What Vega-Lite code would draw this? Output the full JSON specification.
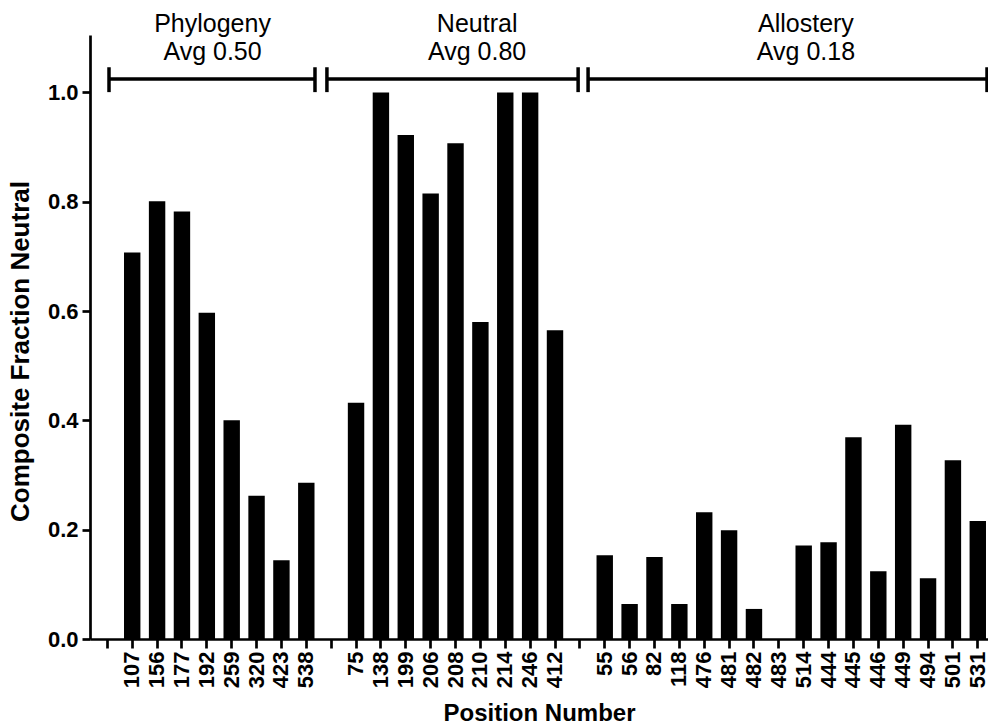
{
  "$schema": "https://vega.github.io/schema/vega-lite/v6.json",
  "width": 898,
  "height": 604,
  "autosize": {"type": "none"},
  "padding": {"left": 90, "top": 35, "right": 0, "bottom": 85},
  "background": "white",
  "config": {
    "view": {"stroke": null},
    "font": "Liberation Sans",
    "axis": {"domainColor": "black", "tickColor": "black", "domainWidth": 2.7, "tickWidth": 2.7, "grid": false, "labelColor": "black", "titleColor": "black"}
  },
  "datasets": {
    "bars": [
      {"group": "Phylogeny", "position": "107", "fraction": 0.707},
      {"group": "Phylogeny", "position": "156", "fraction": 0.801},
      {"group": "Phylogeny", "position": "177", "fraction": 0.782},
      {"group": "Phylogeny", "position": "192", "fraction": 0.597},
      {"group": "Phylogeny", "position": "259", "fraction": 0.400},
      {"group": "Phylogeny", "position": "320", "fraction": 0.262},
      {"group": "Phylogeny", "position": "423", "fraction": 0.144},
      {"group": "Phylogeny", "position": "538", "fraction": 0.286},
      {"group": "Neutral", "position": "75", "fraction": 0.432},
      {"group": "Neutral", "position": "138", "fraction": 1.0},
      {"group": "Neutral", "position": "199", "fraction": 0.922},
      {"group": "Neutral", "position": "206", "fraction": 0.815},
      {"group": "Neutral", "position": "208", "fraction": 0.907},
      {"group": "Neutral", "position": "210", "fraction": 0.580},
      {"group": "Neutral", "position": "214", "fraction": 1.0},
      {"group": "Neutral", "position": "246", "fraction": 1.0},
      {"group": "Neutral", "position": "412", "fraction": 0.565},
      {"group": "Allostery", "position": "55", "fraction": 0.153},
      {"group": "Allostery", "position": "56", "fraction": 0.064},
      {"group": "Allostery", "position": "82", "fraction": 0.150},
      {"group": "Allostery", "position": "118", "fraction": 0.064},
      {"group": "Allostery", "position": "476", "fraction": 0.232},
      {"group": "Allostery", "position": "481", "fraction": 0.199},
      {"group": "Allostery", "position": "482", "fraction": 0.055},
      {"group": "Allostery", "position": "483", "fraction": 0.0},
      {"group": "Allostery", "position": "514", "fraction": 0.171},
      {"group": "Allostery", "position": "444", "fraction": 0.177},
      {"group": "Allostery", "position": "445", "fraction": 0.369},
      {"group": "Allostery", "position": "446", "fraction": 0.124},
      {"group": "Allostery", "position": "449", "fraction": 0.392},
      {"group": "Allostery", "position": "494", "fraction": 0.111},
      {"group": "Allostery", "position": "501", "fraction": 0.327},
      {"group": "Allostery", "position": "531", "fraction": 0.216}
    ],
    "groups": [
      {"group": "Phylogeny", "start": 0.068, "end": 8.35, "mid": 4.23, "label": "Phylogeny\nAvg 0.50"},
      {"group": "Neutral", "start": 8.83, "end": 18.93, "mid": 14.87, "label": "Neutral\nAvg 0.80"},
      {"group": "Allostery", "start": 19.33, "end": 35.37, "mid": 28.09, "label": "Allostery\nAvg 0.18"}
    ]
  },
  "layer": [
    {
      "data": {"name": "bars"},
      "mark": {"type": "bar", "color": "black"},
      "encoding": {
        "x": {
          "field": "position",
          "type": "nominal",
          "scale": {
            "domain": ["gap0", "107", "156", "177", "192", "259", "320", "423", "538", "gap1", "75", "138", "199", "206", "208", "210", "214", "246", "412", "gap2", "55", "56", "82", "118", "476", "481", "482", "483", "514", "444", "445", "446", "449", "494", "501", "531"],
            "paddingInner": 0.34,
            "paddingOuter": 0.224,
            "align": 0.82
          },
          "axis": {
            "title": "Position Number",
            "titleFontSize": 24,
            "titleFontWeight": "bold",
            "titleBaseline": "alphabetic",
            "titleY": 81,
            "labelFontSize": 22,
            "labelFontWeight": "bold",
            "labelAngle": -90,
            "labelOverlap": false,
            "labelBound": false,
            "tickSize": 9,
            "labelPadding": 3,
            "labelExpr": "indexof(datum.value, 'gap') === 0 ? '' : datum.value"
          }
        },
        "y": {
          "field": "fraction",
          "type": "quantitative",
          "scale": {"domain": [0, 1.105], "nice": false, "zero": true},
          "axis": {
            "title": "Composite Fraction Neutral",
            "titleFontSize": 26,
            "titleFontWeight": "bold",
            "titleBaseline": "alphabetic",
            "titleAlign": "center",
            "titleX": -62,
            "titleY": 316,
            "values": [0, 0.2, 0.4, 0.6, 0.8, 1.0],
            "format": ".1f",
            "labelFontSize": 22,
            "labelFontWeight": "bold",
            "tickSize": 8,
            "labelPadding": 4
          }
        }
      }
    },
    {
      "data": {"name": "groups"},
      "mark": {"type": "rule", "color": "black", "strokeWidth": 3.5},
      "encoding": {
        "x": {"field": "start", "type": "quantitative", "scale": {"domain": [-0.696, 35.41], "nice": false, "zero": false}, "axis": null},
        "x2": {"field": "end"},
        "y": {"datum": 1.0243, "type": "quantitative"}
      }
    },
    {
      "data": {"name": "groups"},
      "mark": {"type": "rule", "color": "black", "strokeWidth": 3.5},
      "encoding": {
        "x": {"field": "start", "type": "quantitative", "scale": {"domain": [-0.696, 35.41], "nice": false, "zero": false}, "axis": null},
        "y": {"datum": 1.0005, "type": "quantitative"},
        "y2": {"datum": 1.046}
      }
    },
    {
      "data": {"name": "groups"},
      "mark": {"type": "rule", "color": "black", "strokeWidth": 3.5},
      "encoding": {
        "x": {"field": "end", "type": "quantitative", "scale": {"domain": [-0.696, 35.41], "nice": false, "zero": false}, "axis": null},
        "y": {"datum": 1.0005, "type": "quantitative"},
        "y2": {"datum": 1.046}
      }
    },
    {
      "data": {"name": "groups"},
      "mark": {"type": "text", "color": "black", "fontSize": 25, "align": "center", "baseline": "alphabetic", "lineBreak": "\n", "lineHeight": 28},
      "encoding": {
        "x": {"field": "mid", "type": "quantitative", "scale": {"domain": [-0.696, 35.41], "nice": false, "zero": false}, "axis": null},
        "y": {"datum": 1.1097, "type": "quantitative"},
        "text": {"field": "label"}
      }
    }
  ],
  "resolve": {"scale": {"x": "independent"}}
}
